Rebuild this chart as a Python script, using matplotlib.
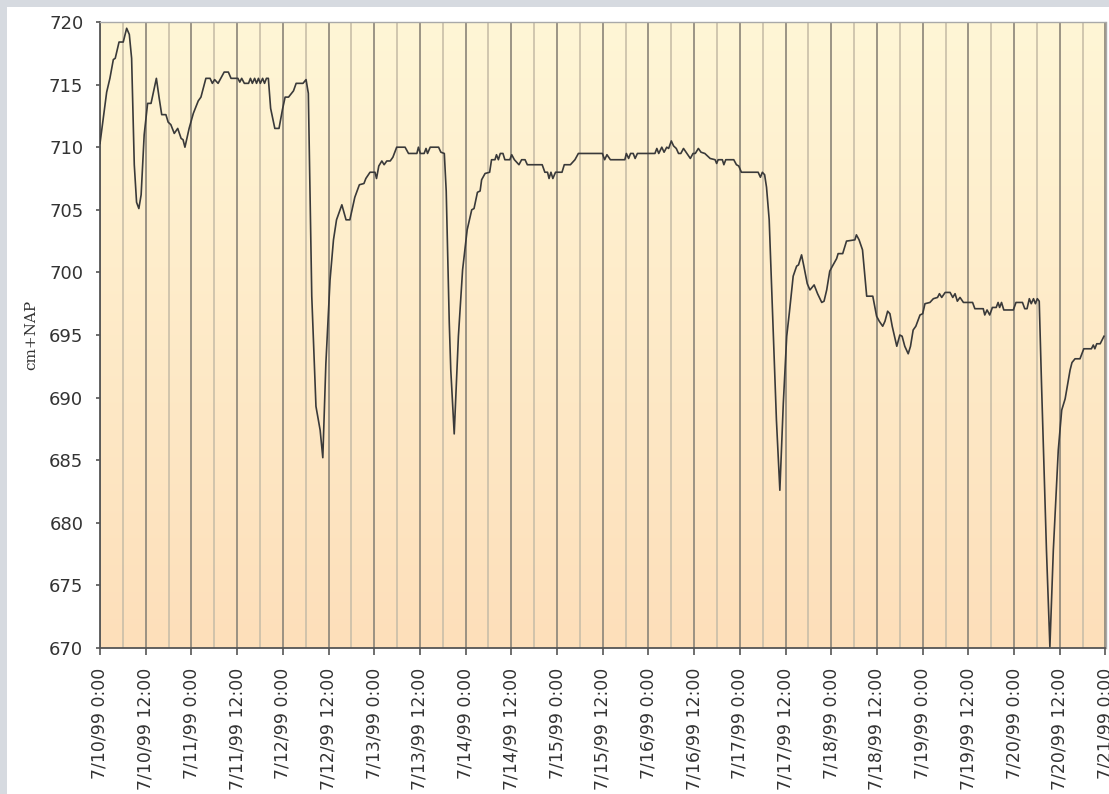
import numpy as np
import pandas as pd
import matplotlib
matplotlib.use('Agg')
import matplotlib.pyplot as plt
import matplotlib.dates as mdates
from matplotlib.colors import LinearSegmentedColormap
from matplotlib.patches import Rectangle

# Waterstand, uren na 7/10/99 0:00
HOURS = [0, 1.75, 2.6, 3.5, 4, 5, 6.1, 7, 7.7, 8.3, 9, 9.6, 10.2, 10.8, 11.6, 12.5, 13.4, 14.8,
         15.5, 16.2, 17.3, 17.9, 18.6, 19.5, 20.4, 21.3, 21.8, 22.3, 23.4, 24.5, 25.8, 26.5, 27.8,
         28.9, 29.5, 30.1, 31, 31.7, 32.6, 33.7, 34.4, 36.2, 36.7, 37.2, 37.9, 39, 39.5, 40, 40.6,
         41.1, 41.6, 42.1, 42.7, 43.2, 43.7, 44.2, 44.8, 45.9, 47.0, 47.9, 48.6, 49.5, 50.8, 51.5,
         53.3, 54.1, 54.7,
         55.6, 56.7, 57.8, 58.5, 59.3, 60.4, 61.3, 62.1, 63.5, 64.6, 65.6, 66.9, 68.1, 69.3, 69.8,
         70.9, 72.2, 72.6, 73.2, 74.0, 74.6, 75.3, 76.2, 76.9, 77.9, 80.1, 81, 83.2, 83.6, 84.1,
         85.1, 85.6, 86, 86.7, 88.9, 89.5, 90.4, 90.9, 91.7, 92.1, 93.0, 94.1, 95.2, 96.4, 97.6,
         98.2, 99.1, 99.8, 100.2, 101.1, 102.3, 102.8, 103.7, 104.1, 104.6, 105.1, 105.8, 106.3,
         107.6, 108.1, 108.8, 110, 110.7, 111.6, 112.2, 116.1, 116.8, 117.5, 117.9, 118.4, 118.9,
         119.6, 121.3, 121.9, 123.5, 124.7, 125.6, 131.9, 132.5, 133.1, 134.0,
         137.8, 138.2, 138.8, 139.3, 140, 140.5, 141.1, 145.7, 146.2, 146.7, 147.5, 148.1, 148.8,
         149.3, 150.0, 150.6, 151.3, 151.9, 152.5, 153.2, 154.1, 155.0, 155.7, 156.3, 157.1, 157.8,
         158.8, 160.2, 161.5, 161.9, 162.3, 163.4, 163.8, 164.3, 166.4, 167.1, 167.7, 168.4, 172.8,
         173.4, 173.9, 174.5, 175.0, 175.7, 176.8, 177.6, 178.5, 179.4, 180.3, 181.0,
         182.0, 182.9, 183.4, 184.2, 184.8, 185.7, 186.4, 187.5, 188.4, 189.5, 190.1, 190.8, 191.6,
         192.3, 193.4, 193.8, 195.0, 196.0, 198.2, 198.6, 199.3, 200.2, 201.3, 202.9, 203.9, 204.6,
         205.5, 206.1, 206.8, 207.4, 208.0, 209.2, 210.0, 210.6, 211.3, 212.2, 212.8, 213.5, 214.2,
         215.3, 216.0, 216.6, 217.9, 218.8, 219.9, 220.4, 221.0, 221.9, 223.2, 223.9, 224.5, 225.1,
         225.8, 226.7, 229.1, 229.7, 231.9, 232.3, 232.9, 233.6, 234.3, 235.3, 235.8, 236.2, 236.7,
         237.3, 239.8, 240.5, 242.2, 242.8, 243.4, 244.0, 244.5, 245.1, 245.6, 246.1, 246.6, 247.2,
         248.5, 249.4, 250.3, 251.6, 252.5, 253.4, 254.7, 255.2, 256.0, 257.3, 258.3, 260.3, 260.8,
         261.2, 261.7, 262.6, 263.6]

LEVEL = [710.3, 714.4, 715.5, 717.0, 717.1, 718.4, 718.4, 719.5, 719.0, 717.1, 708.6, 705.6, 705.1,
         706.2, 711.0, 713.5, 713.5, 715.5, 714.0, 712.6, 712.6, 712.0, 711.8, 711.1, 711.5, 710.7,
         710.6, 710.0, 711.5, 712.7, 713.7, 714.0, 715.5, 715.5, 715.1, 715.4, 715.1, 715.5, 716.0,
         716.0, 715.5, 715.5, 715.2, 715.5, 715.1, 715.1, 715.5, 715.1, 715.5, 715.1, 715.5, 715.1,
         715.5, 715.1, 715.5, 715.5, 713.1, 711.5, 711.5, 713.0, 714.0, 714.0, 714.5, 715.1, 715.1,
         715.4, 714.3,
         698.1, 689.3, 687.4, 685.2, 692.7, 699.4, 702.6, 704.2, 705.4, 704.2, 704.2, 706.0, 707.0,
         707.1, 707.5, 708.0, 708.0, 707.5, 708.5, 708.9, 708.6, 708.9, 708.9, 709.2, 710.0, 710.0,
         709.5, 709.5, 710.0, 709.5, 709.5, 709.9, 709.5, 710.0, 710.0, 709.6, 709.5, 706.5, 696.0,
         692.2, 687.1, 694.9, 700.2, 703.4, 705.0, 705.1, 706.4, 706.5, 707.4, 707.9, 708.0, 709.0,
         709.0, 709.4, 709.0, 709.5, 709.5, 709.0, 709.0, 709.4, 709.0, 708.6, 709.0, 709.0, 708.6,
         708.6, 708.0, 708.0, 707.5, 708.0, 707.5, 708.0, 708.0, 708.6, 708.6, 709.0, 709.5, 709.5,
         709.0, 709.4, 709.0,
         709.0, 709.5, 709.1, 709.5, 709.5, 709.1, 709.5, 709.5, 709.9, 709.5, 710.0, 709.6, 710.0,
         709.9, 710.5, 710.1, 709.9, 709.5, 709.5, 709.9, 709.5, 709.1, 709.5, 709.5, 709.9, 709.6,
         709.5, 709.1, 709.0, 708.7, 709.0, 709.0, 708.6, 709.0, 709.0, 708.6, 708.5, 708.0, 708.0,
         707.6, 708.0, 707.8, 706.8, 704.2, 694.9, 688.2, 682.6, 689.5, 694.9, 696.8,
         699.7, 700.5, 700.6, 701.4, 700.5, 699.1, 698.6, 699.0, 698.3, 697.6, 697.7, 698.6, 700.1,
         700.5, 701.1, 701.5, 701.5, 702.5, 702.6, 703.0, 702.6, 701.8, 698.1, 698.1, 696.5, 696.1,
         695.7, 696.1, 696.9, 696.7, 695.7, 694.1, 695.0, 694.9, 694.1, 693.5, 694.1, 695.4, 695.7,
         696.6, 696.7, 697.5, 697.6, 697.9, 698.0, 698.3, 698.0, 698.4, 698.4, 698.0, 698.3, 697.7,
         698.0, 697.6, 697.6, 697.1, 697.1, 696.6, 697.0, 696.6, 697.2, 697.2, 697.6, 697.2, 697.6,
         697.0, 697.0, 697.6, 697.6, 697.1, 697.1, 697.9, 697.5, 697.9, 697.5, 697.9, 697.7, 691.1,
         677.8, 670.1, 677.8, 685.8, 689.0, 689.9, 692.2, 692.8, 693.1, 693.1, 693.9, 693.9, 694.2,
         693.9, 694.3, 694.3, 694.9]

START = pd.Timestamp('1999-07-10 00:00')
END = pd.Timestamp('1999-07-21 00:00')
Y_MIN, Y_MAX, Y_STEP = 670, 720, 5
Y_LABEL = 'cm+NAP'

times = START + pd.to_timedelta(HOURS, unit='h')

fig = plt.figure(figsize=(11.09, 7.94), dpi=100, facecolor='white')
# grijze rand boven en links (screenshot-kader)
fig.patches.append(Rectangle((0, 1 - 7 / 794), 1, 7 / 794, transform=fig.transFigure,
                             facecolor='#d6dae0', edgecolor='none', zorder=0))
fig.patches.append(Rectangle((0, 0), 7 / 1109, 1, transform=fig.transFigure,
                             facecolor='#d6dae0', edgecolor='none', zorder=0))

ax = fig.add_axes([100 / 1109, 1 - 648 / 794, 1005.5 / 1109, 626 / 794])

# achtergrond-verloop
cmap = LinearSegmentedColormap.from_list('bg', ['#fddfba', '#fff6d6'])
grad = np.linspace(0, 1, 256).reshape(-1, 1)
ax.imshow(grad, cmap=cmap, origin='lower', aspect='auto', extent=[0, 1, 0, 1],
          transform=ax.transAxes, zorder=0)

ax.plot(times, LEVEL, color='#3a3a3a', linewidth=1.2, zorder=3)

ax.set_xlim(START, END)
ax.set_ylim(Y_MIN, Y_MAX)
ax.set_yticks(np.arange(Y_MIN, Y_MAX + 1, Y_STEP))

ax.xaxis.set_major_locator(mdates.HourLocator(byhour=[0, 12]))
ax.xaxis.set_minor_locator(mdates.HourLocator(byhour=[6, 18]))


def fmt(x, pos=None):
    d = mdates.num2date(x)
    return f'{d.month}/{d.day}/{d:%y} {d.hour}:{d:%M}'


ax.xaxis.set_major_formatter(plt.FuncFormatter(fmt))
ax.grid(True, which='major', axis='x', color='#8a8478', linewidth=1.2, zorder=1)
ax.grid(True, which='minor', axis='x', color='#c9bea8', linewidth=1.2, zorder=1)
ax.set_axisbelow(True)

ax.tick_params(axis='x', which='major', length=5, width=1.2, color='#555555',
               labelsize=12.5, labelcolor='#333333', labelrotation=90, pad=9)
ax.tick_params(axis='x', which='minor', length=0)
ax.tick_params(axis='y', length=3, width=1.2, color='#555555',
               labelsize=13, labelcolor='#333333', pad=9)

for side in ['left', 'bottom']:
    ax.spines[side].set_color('#555555')
    ax.spines[side].set_linewidth(1.3)
for side in ['top', 'right']:
    ax.spines[side].set_color('#a9a9a9')
    ax.spines[side].set_linewidth(1.0)

ax.set_ylabel(Y_LABEL, family='DejaVu Serif', fontsize=11, color='#333333', labelpad=8)

fig.savefig('out.png', dpi=100, facecolor='white')
